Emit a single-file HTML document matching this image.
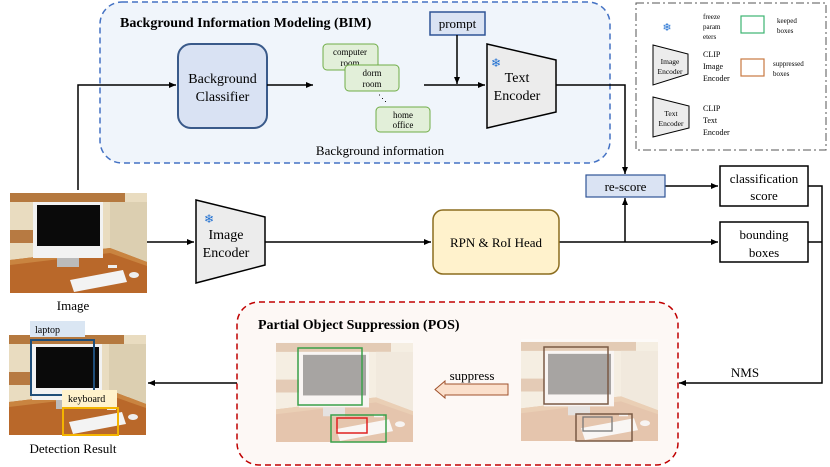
<!DOCTYPE html>
<html><head><meta charset="utf-8"><style>
html,body{margin:0;padding:0;background:#fff;}
svg{display:block;font-family:"Liberation Serif",serif;}
</style></head><body>
<svg width="830" height="467" viewBox="0 0 830 467" xmlns="http://www.w3.org/2000/svg">
<defs>
<marker id="ar" markerWidth="8" markerHeight="8" refX="7" refY="4" orient="auto" markerUnits="userSpaceOnUse">
<path d="M0,1 L7,4 L0,7 Z" fill="#000"/></marker>
<symbol id="photo" viewBox="0 0 137 103" preserveAspectRatio="none">
<rect width="137" height="103" fill="#e9dcc0"/>
<rect x="0" y="0" width="137" height="3" fill="#fff"/>
<rect x="0" y="3" width="115" height="9" fill="#b5793f"/>
<rect x="0" y="40" width="27" height="13" fill="#b77a42"/>
<rect x="100" y="12" width="37" height="60" fill="#dccfb1"/>
<path d="M0,70 L100,58 L137,72 L137,103 L0,103 Z" fill="#b9682a"/>
<path d="M0,70 L100,58 L137,72 L137,76 L100,63 L0,75 Z" fill="#c98440"/>
<rect x="23" y="12" width="70" height="56" fill="#f2f2f2"/>
<rect x="27" y="15" width="63" height="41" fill="#0a0a0a"/>
<rect x="47" y="68" width="22" height="9" fill="#bbb"/>
<path d="M60,90 L113,80 L117,92 L64,102 Z" fill="#f3f3f3"/>
<ellipse cx="124" cy="85" rx="5" ry="3" fill="#eee"/>
<rect x="98" y="75" width="9" height="3" fill="#eee"/>
</symbol>
</defs>

<!-- BIM -->
<rect x="100" y="2" width="510" height="161" rx="22" fill="#f0f5fb" stroke="#4472c4" stroke-width="1.5" stroke-dasharray="6,4"/>
<text x="120" y="27" font-size="14" font-weight="bold">Background Information Modeling (BIM)</text>
<rect x="178" y="44" width="89" height="84" rx="13" fill="#d9e2f3" stroke="#3a5a8a" stroke-width="2"/>
<text x="222.5" y="83" font-size="14" text-anchor="middle">Background</text>
<text x="222.5" y="101" font-size="14" text-anchor="middle">Classifier</text>
<rect x="323" y="44" width="55" height="26" rx="4" fill="#e2efd9" stroke="#70ad47"/>
<text x="350" y="55" font-size="9" text-anchor="middle">computer</text>
<text x="350" y="66" font-size="9" text-anchor="middle">room</text>
<rect x="345" y="65" width="54" height="26" rx="4" fill="#e2efd9" stroke="#70ad47"/>
<text x="372" y="76" font-size="9" text-anchor="middle">dorm</text>
<text x="372" y="87" font-size="9" text-anchor="middle">room</text>
<text x="378" y="101" font-size="9">⋱</text>
<rect x="376" y="107" width="54" height="25" rx="4" fill="#e2efd9" stroke="#70ad47"/>
<text x="403" y="118" font-size="9" text-anchor="middle">home</text>
<text x="403" y="128" font-size="9" text-anchor="middle">office</text>
<text x="380" y="155" font-size="13" text-anchor="middle">Background information</text>
<rect x="430" y="12" width="55" height="23" fill="#dae3f3" stroke="#2f5496" stroke-width="1.5"/>
<text x="457.5" y="28" font-size="13" text-anchor="middle">prompt</text>
<path d="M487,44 L556,60 L556,112 L487,128 Z" fill="#ececec" stroke="#000" stroke-width="1.5"/>
<text x="517" y="82" font-size="14" text-anchor="middle">Text</text>
<text x="517" y="100" font-size="14" text-anchor="middle">Encoder</text>
<text x="491" y="67" font-size="12" fill="#1f6fd1">❄</text>

<g stroke="#000" stroke-width="1.5" fill="none">
<path d="M78,192 L78,85 L176,85" marker-end="url(#ar)"/>
<path d="M267,85 L313,85" marker-end="url(#ar)"/>
<path d="M424,85 L485,85" marker-end="url(#ar)"/>
<path d="M457,35 L457,84" marker-end="url(#ar)"/>
<path d="M556,85 L625,85 L625,174" marker-end="url(#ar)"/>
<path d="M147,242 L194,242" marker-end="url(#ar)"/>
<path d="M265,242 L431,242" marker-end="url(#ar)"/>
<path d="M559,242 L718,242" marker-end="url(#ar)"/>
<path d="M625,242 L625,198" marker-end="url(#ar)"/>
<path d="M665,186 L718,186" marker-end="url(#ar)"/>
<path d="M808,186 L822,186 L822,383 L679,383" marker-end="url(#ar)"/>
<path d="M808,242 L822,242"/>
<path d="M237,383 L148,383" marker-end="url(#ar)"/>
</g>

<!-- legend -->
<rect x="636" y="3" width="190" height="147" fill="#fff" stroke="#555" stroke-dasharray="8,3,2,3"/>
<text x="667" y="31" font-size="11" fill="#1f6fd1" text-anchor="middle">❄</text>
<text x="703" y="19" font-size="7">freeze</text>
<text x="703" y="29" font-size="7">param</text>
<text x="703" y="39" font-size="7">eters</text>
<rect x="741" y="16" width="23" height="17" fill="none" stroke="#3cb371" stroke-width="1.2"/>
<text x="777" y="23" font-size="7">keeped</text>
<text x="777" y="33" font-size="7">boxes</text>
<path d="M653,45 L688,54 L688,74 L653,85 Z" fill="#ececec" stroke="#000"/>
<text x="670" y="64" font-size="7.5" text-anchor="middle">Image</text>
<text x="670" y="74" font-size="7.5" text-anchor="middle">Encoder</text>
<text x="703" y="57" font-size="8">CLIP</text>
<text x="703" y="69" font-size="8">Image</text>
<text x="703" y="81" font-size="8">Encoder</text>
<rect x="741" y="59" width="23" height="17" fill="none" stroke="#c87941" stroke-width="1.2"/>
<text x="773" y="66" font-size="7">suppressed</text>
<text x="773" y="76" font-size="7">boxes</text>
<path d="M653,97 L689,106 L689,128 L653,137 Z" fill="#ececec" stroke="#000"/>
<text x="671" y="116" font-size="7.5" text-anchor="middle">Text</text>
<text x="671" y="126" font-size="7.5" text-anchor="middle">Encoder</text>
<text x="703" y="111" font-size="8">CLIP</text>
<text x="703" y="123" font-size="8">Text</text>
<text x="703" y="135" font-size="8">Encoder</text>

<!-- middle row -->
<use href="#photo" x="10" y="190" width="137" height="103"/>
<text x="73" y="310" font-size="13" text-anchor="middle">Image</text>
<path d="M196,200 L265,217 L265,265 L196,283 Z" fill="#ececec" stroke="#000" stroke-width="1.5"/>
<text x="209" y="223" font-size="12" fill="#1f6fd1" text-anchor="middle">❄</text>
<text x="226" y="239" font-size="14" text-anchor="middle">Image</text>
<text x="226" y="257" font-size="14" text-anchor="middle">Encoder</text>
<rect x="433" y="210" width="126" height="64" rx="10" fill="#fff2cc" stroke="#8c6d1f" stroke-width="1.5"/>
<text x="496" y="247" font-size="13" text-anchor="middle">RPN &amp; RoI Head</text>
<rect x="586" y="175" width="79" height="22" fill="#dae3f3" stroke="#2f5496" stroke-width="1.2"/>
<text x="625.5" y="191" font-size="13" text-anchor="middle">re-score</text>
<rect x="720" y="166" width="88" height="40" fill="#fff" stroke="#000" stroke-width="1.5"/>
<text x="764" y="183" font-size="13" text-anchor="middle">classification</text>
<text x="764" y="200" font-size="13" text-anchor="middle">score</text>
<rect x="720" y="222" width="88" height="40" fill="#fff" stroke="#000" stroke-width="1.5"/>
<text x="764" y="239" font-size="13" text-anchor="middle">bounding</text>
<text x="764" y="257" font-size="13" text-anchor="middle">boxes</text>
<text x="745" y="377" font-size="13" text-anchor="middle">NMS</text>

<!-- POS -->
<rect x="237" y="302" width="441" height="163" rx="22" fill="#fdf8f5" stroke="#c00000" stroke-width="1.5" stroke-dasharray="6,4"/>
<text x="258" y="329" font-size="14" font-weight="bold">Partial Object Suppression (POS)</text>
<use href="#photo" x="276" y="340" width="137" height="102" opacity="0.35"/>
<rect x="298" y="348" width="64" height="57" fill="none" stroke="#3aa04a" stroke-width="1.5"/>
<rect x="331" y="415" width="55" height="27" fill="none" stroke="#3aa04a" stroke-width="1.5"/>
<rect x="337" y="418" width="30" height="15" fill="none" stroke="#e02020" stroke-width="1.5"/>
<use href="#photo" x="521" y="339" width="137" height="102" opacity="0.35"/>
<rect x="544" y="347" width="64" height="57" fill="none" stroke="#7a5a45" stroke-width="1.5"/>
<rect x="576" y="414" width="56" height="27" fill="none" stroke="#7a5a45" stroke-width="1.5"/>
<rect x="583" y="417" width="29" height="14" fill="none" stroke="#777" stroke-width="1.3"/>
<text x="472" y="380" font-size="13" text-anchor="middle">suppress</text>
<path d="M508,384 L445,384 L445,381 L435,389.5 L445,398 L445,395 L508,395 Z" fill="#fbe0cc" stroke="#a0522d"/>

<!-- detection result -->
<use href="#photo" x="9" y="332" width="137" height="103"/>
<rect x="30" y="321" width="55" height="16" fill="#dae6f3"/>
<text x="35" y="333" font-size="10">laptop</text>
<rect x="31" y="340" width="63" height="55" fill="none" stroke="#1f4e79" stroke-width="2"/>
<rect x="62" y="390" width="55" height="17" fill="#fff2cc"/>
<text x="68" y="402" font-size="10">keyboard</text>
<rect x="63" y="408" width="55" height="27" fill="none" stroke="#f4b400" stroke-width="2"/>
<text x="73" y="453" font-size="13" text-anchor="middle">Detection Result</text>
</svg>
</body></html>
